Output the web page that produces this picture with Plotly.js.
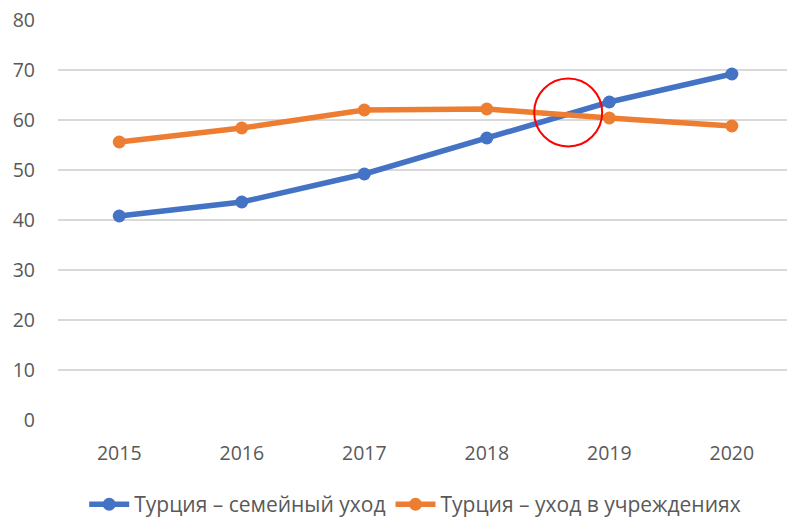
<!DOCTYPE html>
<html>
<head>
<meta charset="utf-8">
<script src="https://cdn.plot.ly/plotly-3.0.1.min.js"></script>
<style>html,body{margin:0;padding:0;background:#fff}#chart{width:787px;height:517px}</style>
</head>
<body>
<div id="chart"></div>
<script>
var years = ['2015', '2016', '2017', '2018', '2019', '2020'];
var familyCare = [40.8, 43.6, 49.2, 56.4, 63.6, 69.2];
var institutionalCare = [55.6, 58.4, 62.0, 62.2, 60.4, 58.8];
var seriesNames = ['Турция – семейный уход', 'Турция – уход в учреждениях'];
var yTicks = [0, 10, 20, 30, 40, 50, 60, 70, 80];
var highlightPoint = {x: 3.664, y: 61.5};

var font = {family: 'Open Sans, Liberation Sans, Arial, sans-serif', size: 19.5, color: '#595959'};
var legendFont = {family: 'Open Sans, Liberation Sans, Arial, sans-serif', size: 21, color: '#595959'};

var traces = [
  {x: years, y: familyCare, name: seriesNames[0], type: 'scatter', mode: 'lines+markers',
   line: {color: '#4472C4', width: 5.5}, marker: {color: '#4472C4', size: 13}},
  {x: years, y: institutionalCare, name: seriesNames[1], type: 'scatter', mode: 'lines+markers',
   line: {color: '#ED7D31', width: 5.5}, marker: {color: '#ED7D31', size: 13}}
];

var layout = {
  width: 787, height: 517,
  margin: {l: 58, r: 0, t: 20, b: 97, autoexpand: false},
  paper_bgcolor: '#fff', plot_bgcolor: '#fff',
  font: font,
  showlegend: true,
  legend: {orientation: 'h', x: 0.49, xanchor: 'center', yref: 'container', y: 0.024, yanchor: 'middle',
           font: legendFont, itemwidth: 40},
  xaxis: {type: 'category', range: [-0.5, 5.45], showgrid: false, zeroline: false,
          showline: false, ticks: '', ticklabelstandoff: 19, tickfont: font, fixedrange: true},
  yaxis: {range: [0, 80], tickvals: yTicks, showgrid: true, gridcolor: '#D9D9D9', gridwidth: 1.5,
          zeroline: false, showline: false, ticks: '', ticklabelstandoff: 22, tickfont: font},
  shapes: [{type: 'circle', xref: 'x', yref: 'y', xsizemode: 'pixel', ysizemode: 'pixel',
            xanchor: highlightPoint.x, yanchor: highlightPoint.y,
            x0: -34, x1: 34, y0: -34, y1: 34,
            line: {color: '#FF0000', width: 2}, fillcolor: 'rgba(0,0,0,0)'}]
};

Plotly.newPlot('chart', traces, layout, {displayModeBar: false, staticPlot: true});
</script>
</body>
</html>
